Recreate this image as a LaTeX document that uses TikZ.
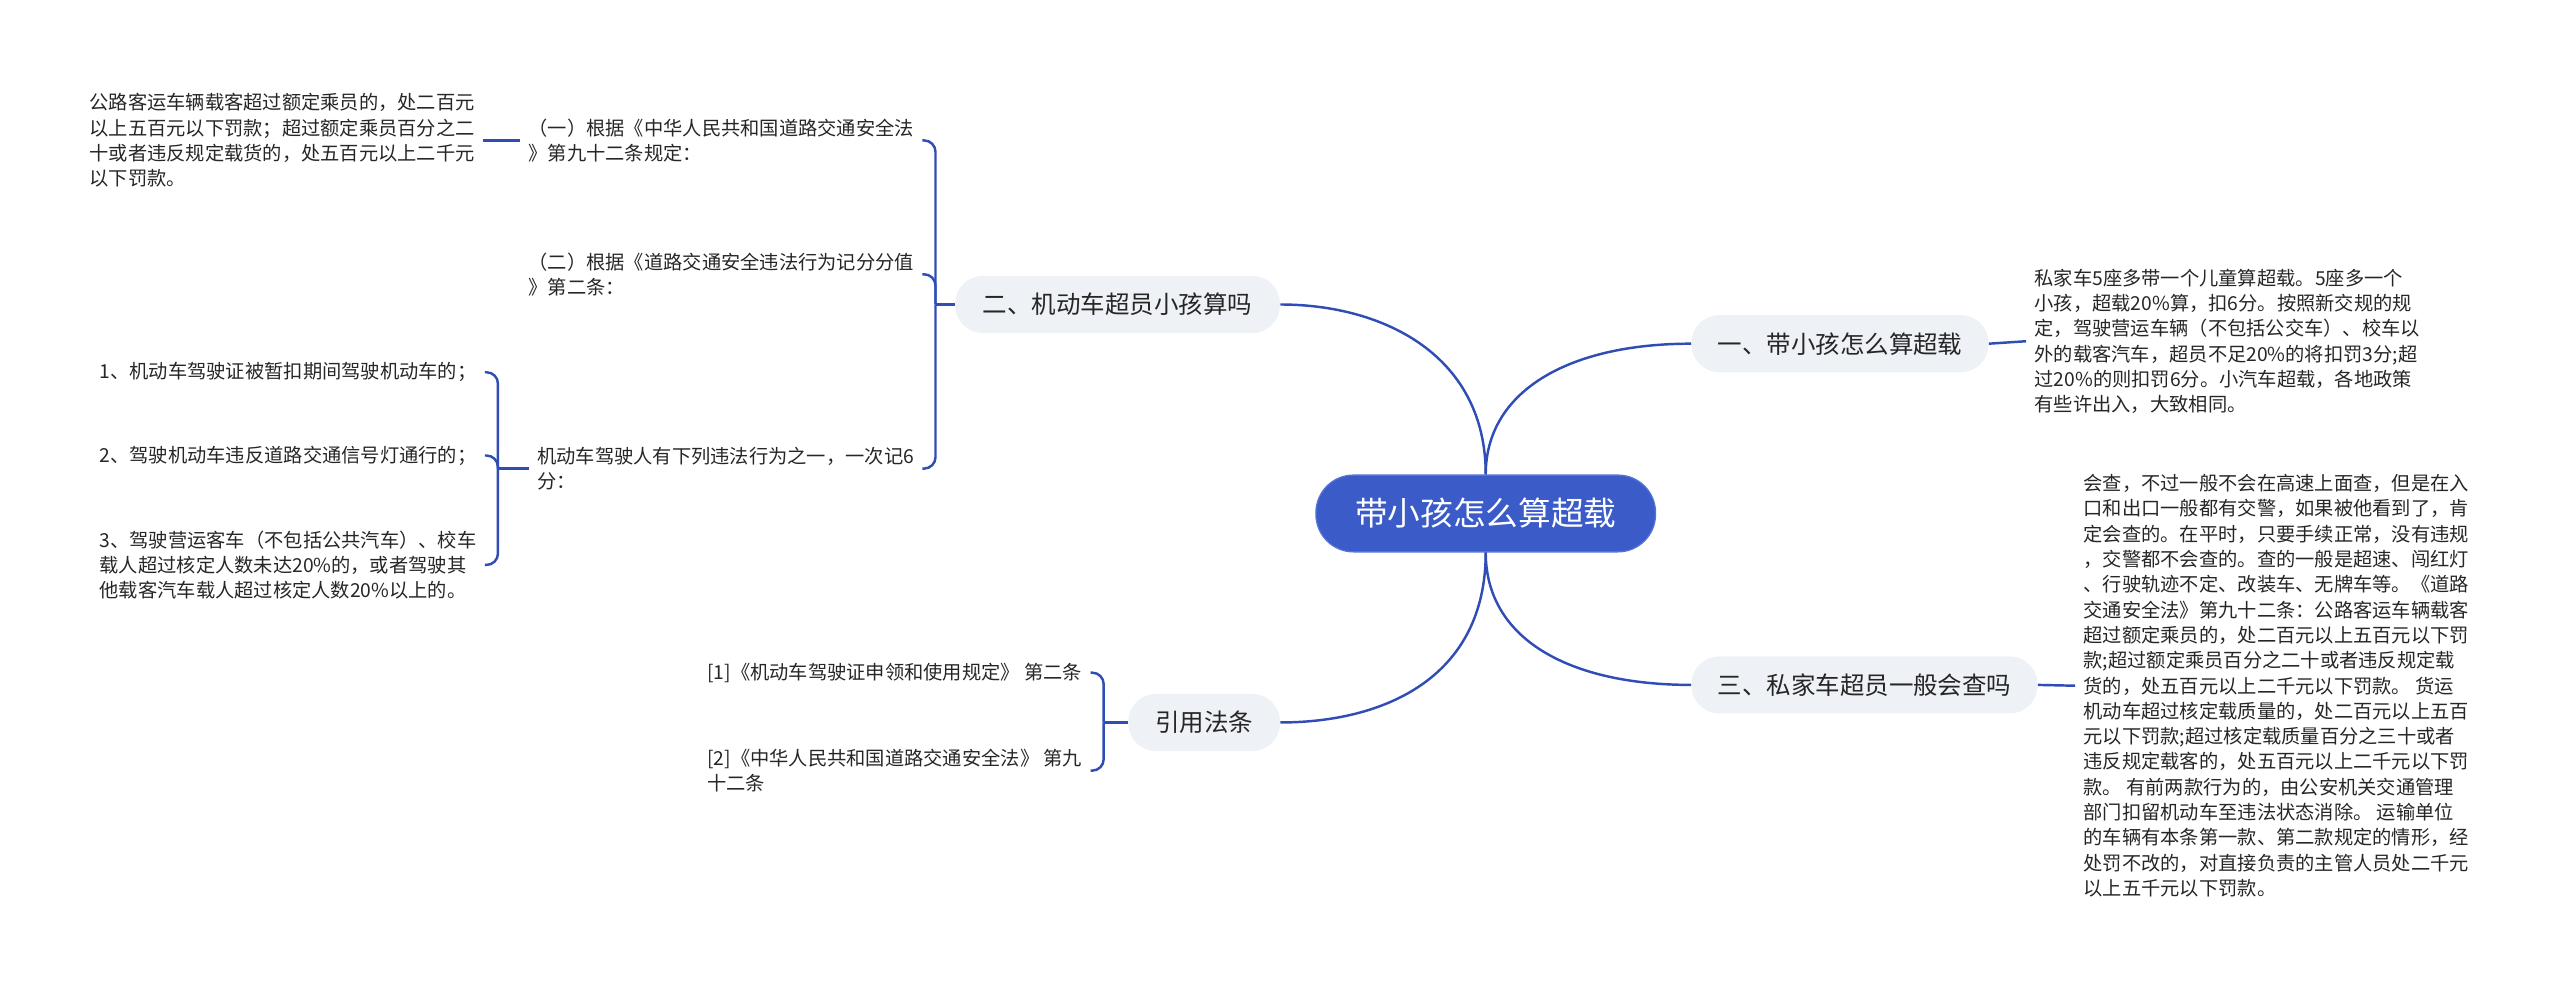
\documentclass[tikz,border=0pt]{standalone}
\usepackage{fontspec}
\setmainfont{Noto Sans CJK SC}
\definecolor{linec}{HTML}{2F4DB5}
\definecolor{rootc}{HTML}{3B5BC9}
\definecolor{rootb}{HTML}{5573D6}
\definecolor{brfill}{HTML}{EEF1F6}
\definecolor{txtc}{HTML}{262626}
\begin{document}
\begin{tikzpicture}[x=1pt,y=-1pt,
  txt/.style={inner xsep=5pt, inner ysep=0pt, align=left, text=txtc,
    font=\fontsize{11.8}{15.5}\selectfont},
  branch/.style={fill=brfill, rounded corners=17pt, minimum height=35pt,
    inner sep=0pt, text=black!85, font=\fontsize{15}{18}\selectfont},
  rootnode/.style={fill=rootc, draw=rootb, line width=0.8pt, text=white,
    rounded corners=23pt, minimum width=208pt, minimum height=47pt,
    inner sep=0pt, font=\fontsize{20}{24}\selectfont},
  conn/.style={draw=linec, line width=1.5pt},
  brk/.style={draw=linec, line width=1.5pt, rounded corners=7pt}]
\useasboundingbox (0,0) rectangle (1568,603);

% root and branches
\node[rootnode] (root) at (910,314.5) {带小孩怎么算超载};
\node[branch, minimum width=182pt] (b1) at (1127,210.5) {一、带小孩怎么算超载};
\node[branch, minimum width=212pt] (b3) at (1142,419.5) {三、私家车超员一般会查吗};
\node[branch, minimum width=199pt] (b2) at (684.5,186.5) {二、机动车超员小孩算吗};
\node[branch, minimum width=93pt] (bref) at (737.5,442.5) {引用法条};

% right texts
\node[txt, anchor=west] (r1) at (1241,209) {私家车5座多带一个儿童算超载。5座多一个\\小孩，超载20\%算，扣6分。按照新交规的规\\定，驾驶营运车辆（不包括公交车）、校车以\\外的载客汽车，超员不足20\%的将扣罚3分;超\\过20\%的则扣罚6分。小汽车超载，各地政策\\有些许出入，大致相同。};
\node[txt, anchor=west] (r3) at (1271,420) {会查，不过一般不会在高速上面查，但是在入\\口和出口一般都有交警，如果被他看到了，肯\\定会查的。在平时，只要手续正常，没有违规\\，交警都不会查的。查的一般是超速、闯红灯\\、行驶轨迹不定、改装车、无牌车等。《道路\\交通安全法》第九十二条：公路客运车辆载客\\超过额定乘员的，处二百元以上五百元以下罚\\款;超过额定乘员百分之二十或者违反规定载\\货的，处五百元以上二千元以下罚款。 货运\\机动车超过核定载质量的，处二百元以上五百\\元以下罚款;超过核定载质量百分之三十或者\\违反规定载客的，处五百元以上二千元以下罚\\款。 有前两款行为的，由公安机关交通管理\\部门扣留机动车至违法状态消除。 运输单位\\的车辆有本条第一款、第二款规定的情形，经\\处罚不改的，对直接负责的主管人员处二千元\\以上五千元以下罚款。};

% left texts of branch 2
\node[txt, anchor=east] (a1) at (565,86) {（一）根据《中华人民共和国道路交通安全法\\》第九十二条规定：};
\node[txt, anchor=east] (a2) at (565,168) {（二）根据《道路交通安全违法行为记分分值\\》第二条：};
\node[txt, anchor=east] (a3) at (565,287) {机动车驾驶人有下列违法行为之一，一次记6\\分：};
\node[txt, anchor=east] (l1) at (296,86) {公路客运车辆载客超过额定乘员的，处二百元\\以上五百元以下罚款；超过额定乘员百分之二\\十或者违反规定载货的，处五百元以上二千元\\以下罚款。};
\node[txt, anchor=east] (c1) at (297,228) {1、机动车驾驶证被暂扣期间驾驶机动车的；};
\node[txt, anchor=east] (c2) at (297,279) {2、驾驶机动车违反道路交通信号灯通行的；};
\node[txt, anchor=east] (c3) at (297,346) {3、驾驶营运客车（不包括公共汽车）、校车\\载人超过核定人数未达20\%的，或者驾驶其\\他载客汽车载人超过核定人数20\%以上的。};

% references
\node[txt, anchor=east] (f1) at (668,412) {[1]《机动车驾驶证申领和使用规定》 第二条};
\node[txt, anchor=east] (f2) at (668,472) {[2]《中华人民共和国道路交通安全法》 第九\\十二条};

% junctions
\coordinate (j2) at (573,186.5);
\coordinate (ja3) at (305,287);
\coordinate (jref) at (676,442.5);

% root connectors
\draw[conn] (root.north) .. controls (910,240) and (960,210.5) .. (b1.west);
\draw[conn] (root.north) .. controls (910,218) and (848,186.5) .. (b2.east);
\draw[conn] (root.south) .. controls (910,392) and (962,419.5) .. (b3.west);
\draw[conn] (root.south) .. controls (910,415) and (848,442.5) .. (bref.east);

% straight leaves
\draw[conn] (b1.east) -- (r1.west);
\draw[conn] (b3.east) -- (r3.west);
\draw[conn] (a1.west) -- (l1.east);

% brackets
\draw[conn] (b2.west) -- (j2);
\draw[brk] (j2) -- (j2 |- a1.east) -- (a1.east);
\draw[brk] (j2) -- (j2 |- a2.east) -- (a2.east);
\draw[brk] (j2) -- (j2 |- a3.east) -- (a3.east);

\draw[conn] (a3.west) -- (ja3);
\draw[brk] (ja3) -- (ja3 |- c1.east) -- (c1.east);
\draw[brk] (ja3) -- (ja3 |- c2.east) -- (c2.east);
\draw[brk] (ja3) -- (ja3 |- c3.east) -- (c3.east);

\draw[conn] (bref.west) -- (jref);
\draw[brk] (jref) -- (jref |- f1.east) -- (f1.east);
\draw[brk] (jref) -- (jref |- f2.east) -- (f2.east);
\end{tikzpicture}
\end{document}
